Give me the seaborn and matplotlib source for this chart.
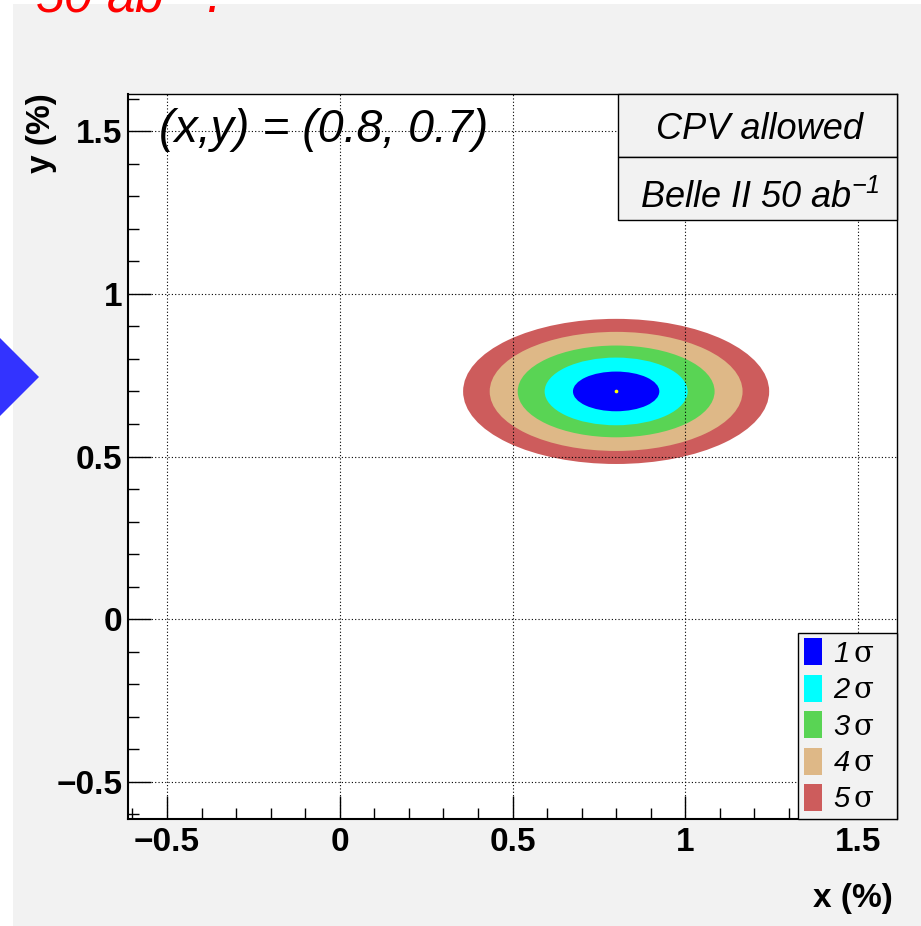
import matplotlib
matplotlib.use("Agg")
import matplotlib.pyplot as plt
from matplotlib.patches import Ellipse, Rectangle, Polygon, Patch
from matplotlib.ticker import MultipleLocator
import seaborn as sns

# best fit point (x, y) in %
x0, y0 = 0.8, 0.7

# n-sigma contours: half widths / half heights
levels = ["1", "2", "3", "4", "5"]
half_x = [0.125, 0.207, 0.285, 0.366, 0.443]
half_y = [0.061, 0.104, 0.141, 0.183, 0.223]
colors = ["#0000ff", "#00ffff", "#59d454", "#deb887", "#cd5c5c"]

x_ticks = [-0.5, 0, 0.5, 1, 1.5]
x_tick_labels = ["\u22120.5", "0", "0.5", "1", "1.5"]
y_ticks = [-0.5, 0, 0.5, 1, 1.5]
y_tick_labels = ["\u22120.5", "0", "0.5", "1", "1.5"]
xlim = (-0.613, 1.613)
ylim = (-0.614, 1.614)

sns.set_theme(style="white")
plt.rcParams["font.family"] = ["Liberation Sans", "DejaVu Sans"]
plt.rcParams["text.color"] = "black"
plt.rcParams["axes.labelcolor"] = "black"
plt.rcParams["xtick.color"] = "black"
plt.rcParams["ytick.color"] = "black"
plt.rcParams["xtick.labelcolor"] = "black"
plt.rcParams["ytick.labelcolor"] = "black"
plt.rcParams["mathtext.fontset"] = "custom"
plt.rcParams["mathtext.rm"] = "Liberation Sans"
plt.rcParams["mathtext.it"] = "Liberation Sans:italic"
plt.rcParams["mathtext.cal"] = "Liberation Sans:italic"
plt.rcParams["mathtext.sf"] = "DejaVu Serif"

W, H = 921, 926
fig = plt.figure(figsize=(W / 100, H / 100), dpi=100, facecolor="white")

# grey canvas of the ROOT pad (slide crop leaves a white margin)
fig.add_artist(Rectangle((13 / W, 0), 1 - 13 / W, 1 - 4 / H, transform=fig.transFigure,
                         facecolor="#f2f2f2", edgecolor="none", zorder=-10))
# bit of the slide's blue arrow on the left
fig.add_artist(Polygon([(0, 1 - 338 / H), (39 / W, 1 - 377 / H), (0, 1 - 416 / H)],
                       closed=True, transform=fig.transFigure,
                       facecolor="#3333ff", edgecolor="none"))
# slide title, cut off by the crop
fig.text(35 / W, 1 - 13 / H, r"50 ab$^{\mathcal{-1}}$.", color="red", fontsize=37,
         fontstyle="italic", va="baseline", ha="left")

ax = fig.add_axes([128 / W, 1 - 819 / H, 769 / W, 725 / H])
ax.set_facecolor("white")

# contours, outermost first
for a, b, c in reversed(list(zip(half_x, half_y, colors))):
    ax.add_patch(Ellipse((x0, y0), 2 * a, 2 * b, facecolor=c, edgecolor="none", zorder=1))

sns.scatterplot(x=[x0], y=[y0], color="yellow", s=7, linewidth=0, ax=ax, zorder=3)

ax.set_xlim(*xlim)
ax.set_ylim(*ylim)
ax.set_xticks(x_ticks, labels=x_tick_labels, fontweight="bold", fontsize=24, color="black")
ax.set_yticks(y_ticks, labels=y_tick_labels, fontweight="bold", fontsize=24, color="black")
ax.xaxis.set_minor_locator(MultipleLocator(0.1))
ax.yaxis.set_minor_locator(MultipleLocator(0.1))
ax.tick_params(which="both", direction="in", top=False, right=False,
               bottom=True, left=True, color="black", width=1)
ax.tick_params(which="major", length=16.5)
ax.tick_params(axis="x", which="major", pad=6)
ax.tick_params(axis="y", which="major", pad=4)
ax.tick_params(which="minor", length=8)

ax.set_axisbelow(False)
ax.grid(True, which="major", color="black", linestyle=(0, (1, 2)), linewidth=0.8)

for side, s in ax.spines.items():
    s.set_color("black")
    s.set_linewidth(1.5 if side in ("left", "bottom") else 1.0)

ax.set_xlabel("")
ax.set_ylabel("")
fig.text(893 / W, 1 - 899 / H, "x (%)", fontsize=24, fontweight="bold",
         ha="right", va="center", color="black")
fig.text(41.5 / W, 1 - 93 / H, "y (%)", fontsize=24, fontweight="bold",
         rotation=90, ha="center", va="top", color="black")

ax.text(0.0403, 0.9338, "(x,y) = (0.8, 0.7)", transform=ax.transAxes, fontsize=33.5,
        fontstyle="italic", ha="left", va="baseline", zorder=5, color="black")

# info boxes top right
box_x = (618 - 128) / 769
for top_px, bot_px, txt, base_px in [(94, 157, "CPV allowed", 139),
                                     (157, 220, r"Belle II 50 ab$^{\mathcal{-1}}$", 208)]:
    yb = (819 - bot_px) / 725
    hgt = (bot_px - top_px) / 725
    ax.add_patch(Rectangle((box_x, yb), 1 - box_x, hgt, transform=ax.transAxes,
                           facecolor="#f2f2f2", edgecolor="black", linewidth=1.0,
                           zorder=4, clip_on=False))
    ax.text((1 + box_x) / 2 + 0.003, (819 - base_px) / 725, txt, transform=ax.transAxes,
            fontsize=26, fontstyle="italic", ha="center", va="baseline", zorder=5,
            color="black")

handles = [Patch(facecolor=c, edgecolor="none") for c in colors]
labels = [r"$\mathcal{%s}\,\mathsf{\sigma}$" % n for n in levels]
leg = ax.legend(handles, labels, loc="lower left",
                bbox_to_anchor=((798 - 128) / 769, 0, (897 - 798) / 769, 0.25),
                mode="expand", borderaxespad=0, fontsize=21, handlelength=0.62,
                handleheight=1.05, handletextpad=0.38, labelspacing=0.24,
                borderpad=0.19, frameon=True, fancybox=False, facecolor="#f2f2f2",
                edgecolor="black", framealpha=1, shadow=False)
leg.get_frame().set_linewidth(1.0)
for t in leg.get_texts():
    t.set_color("black")
leg.set_zorder(6)

fig.savefig("out.png", dpi=100)
